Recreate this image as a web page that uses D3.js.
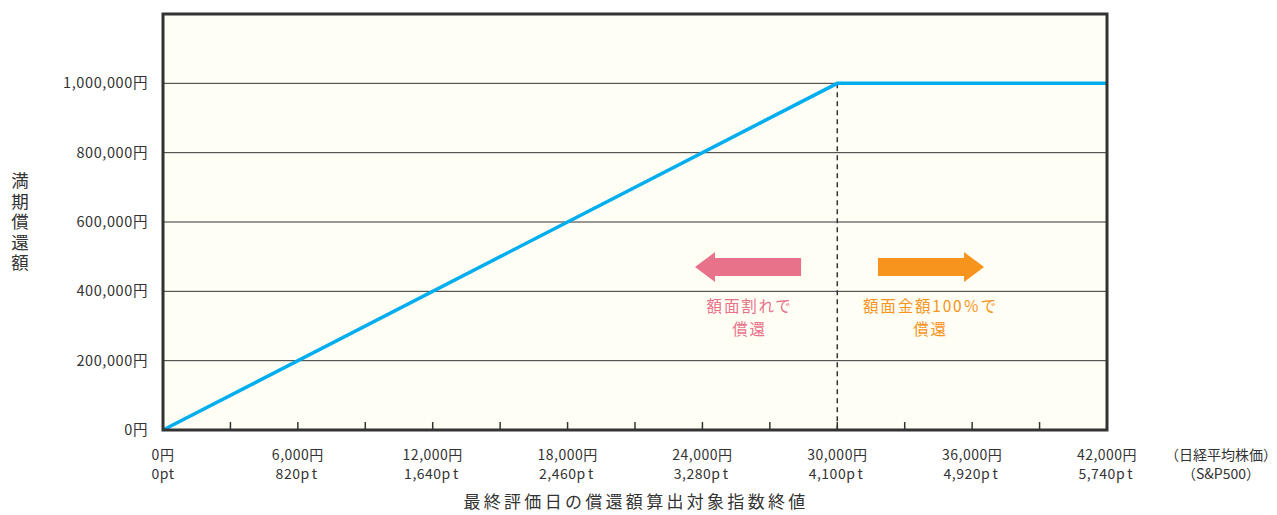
<!DOCTYPE html>
<html>
<head>
<meta charset="utf-8">
<script src="https://cdn.jsdelivr.net/npm/d3@7"></script>
<style>
  body { margin: 0; background: #fff; }
  text { font-family: "Noto Sans CJK JP", "Noto Sans", sans-serif; fill: #333; }
</style>
</head>
<body>
<div class="chart"></div>
<script>
// data
var indexValues = [0, 30000, 42000];       // 日経平均株価 (円)
var payoutValues = [0, 1000000, 1000000];   // 満期償還額 (円)
var yTicks = [0, 200000, 400000, 600000, 800000, 1000000];
var xLabelTicks = [0, 6000, 12000, 18000, 24000, 30000, 36000, 42000];
var xYenLabels = ["0円", "6,000円", "12,000円", "18,000円", "24,000円", "30,000円", "36,000円", "42,000円"];
var xPtLabels = ["0", "820", "1,640", "2,460", "3,280", "4,100", "4,920", "5,740"];
var xMinorTicks = d3.range(3000, 42000, 3000);
var strike = 30000;

// set the dimensions and margins of the graph
var margin = {top: 14, right: 170, bottom: 85, left: 163},
    width = 1277 - margin.left - margin.right,
    height = 515 - margin.top - margin.bottom;

var x = d3.scaleLinear().domain([0, 42000]).range([0, width]);
var y = d3.scaleLinear().domain([0, 1200000]).range([height, 0]);

var svg = d3.select(".chart").append("svg")
    .attr("width", 1277)
    .attr("height", 515)
  .append("g")
    .attr("transform", "translate(" + margin.left + "," + margin.top + ")");

// background
svg.append("rect")
    .attr("width", width).attr("height", height)
    .attr("fill", "#fffef5");

// gridlines
svg.selectAll(".grid").data(yTicks.slice(1)).enter().append("line")
    .attr("x1", 0).attr("x2", width)
    .attr("y1", function(d) { return y(d); })
    .attr("y2", function(d) { return y(d); })
    .attr("stroke", "#333").attr("stroke-width", 1);

// minor ticks on bottom
svg.selectAll(".mtick").data(xMinorTicks).enter().append("line")
    .attr("x1", function(d) { return x(d); })
    .attr("x2", function(d) { return x(d); })
    .attr("y1", height).attr("y2", height - 8)
    .attr("stroke", "#333").attr("stroke-width", 1.5);

// dashed line at strike
svg.append("line")
    .attr("x1", x(strike)).attr("x2", x(strike))
    .attr("y1", y(1000000)).attr("y2", height)
    .attr("stroke", "#333").attr("stroke-width", 1.5)
    .attr("stroke-dasharray", "5,4");

// payout line
var valueline = d3.line()
    .x(function(d, i) { return x(indexValues[i]); })
    .y(function(d) { return y(d); });

svg.append("path")
    .datum(payoutValues)
    .attr("d", valueline)
    .attr("fill", "none")
    .attr("stroke", "#00aeef")
    .attr("stroke-width", 3.5);

// frame
svg.append("rect")
    .attr("width", width).attr("height", height)
    .attr("fill", "none").attr("stroke", "#333").attr("stroke-width", 3);

// y labels
svg.selectAll(".ylab").data(yTicks).enter().append("text")
    .attr("x", -15)
    .attr("y", function(d) { return y(d); })
    .attr("dy", "0.35em")
    .attr("text-anchor", "end")
    .style("font-size", "14.5px")
    .style("letter-spacing", "0.6px")
    .text(function(d) { return d3.format(",")(d) + "円"; });

// y title (vertical)
svg.append("text")
    .attr("x", 20 - margin.left)
    .attr("y", 172 - margin.top)
    .style("writing-mode", "vertical-rl")
    .style("font-size", "17.5px")
    .style("letter-spacing", "3px")
    .text("満期償還額");

// x labels
var xl = svg.selectAll(".xlab").data(xLabelTicks).enter().append("g")
    .attr("transform", function(d) { return "translate(" + x(d) + "," + height + ")"; });
xl.append("text")
    .attr("y", 25).attr("dy", "0.35em")
    .attr("text-anchor", "middle")
    .style("font-size", "14px")
    .style("letter-spacing", "0.5px")
    .text(function(d, i) { return xYenLabels[i]; });
var pt = xl.append("text")
    .attr("y", 44).attr("dy", "0.35em")
    .attr("text-anchor", "middle")
    .style("font-size", "14px")
    .style("letter-spacing", "0.5px");
pt.append("tspan").text(function(d, i) { return xPtLabels[i]; });
pt.append("tspan")
    .style("letter-spacing", function(d, i) { return i === 0 ? "0.5px" : "3px"; })
    .text("pt");

svg.append("text")
    .attr("x", 1221 - margin.left).attr("y", height + 25).attr("dy", "0.35em")
    .attr("text-anchor", "middle").style("font-size", "14px")
    .text("（日経平均株価）");
svg.append("text")
    .attr("x", 1221 - margin.left).attr("y", height + 44).attr("dy", "0.35em")
    .attr("text-anchor", "middle").style("font-size", "14px")
    .text("（S&P500）");

// x title
svg.append("text")
    .attr("x", 636 - margin.left).attr("y", height + 72).attr("dy", "0.35em")
    .attr("text-anchor", "middle").style("font-size", "17px")
    .style("letter-spacing", "3.3px")
    .text("最終評価日の償還額算出対象指数終値");

// arrows
function arrow(x0, x1, yc, dir, color) {
  var a = x(x0), b = x(x1), c = y(yc), head = 20, hs = 9, hh = 15;
  var pts;
  if (dir < 0) {
    pts = [[a, c], [a + head, c - hh], [a + head, c - hs], [b, c - hs],
           [b, c + hs], [a + head, c + hs], [a + head, c + hh]];
  } else {
    pts = [[b, c], [b - head, c - hh], [b - head, c - hs], [a, c - hs],
           [a, c + hs], [b - head, c + hs], [b - head, c + hh]];
  }
  svg.append("polygon")
      .attr("points", pts.map(function(p) { return p.join(","); }).join(" "))
      .attr("fill", color);
}
arrow(23670, 28390, 470000, -1, "#e8728a");
arrow(31810, 36530, 470000, 1, "#f7941d");

var notes = [
  {cx: 26100, lines: ["額面割れで", "償還"], color: "#e8728a"},
  {cx: 34150, lines: ["額面金額100％で", "償還"], color: "#f7941d"}
];
notes.forEach(function(n) {
  n.lines.forEach(function(t, i) {
    svg.append("text")
        .attr("x", x(n.cx))
        .attr("y", y(400000) + 15 + i * 23)
        .attr("dy", "0.35em")
        .attr("text-anchor", "middle")
        .style("font-size", "15.5px")
        .style("letter-spacing", "1.8px")
        .style("fill", n.color)
        .text(t);
  });
});
</script>
</body>
</html>
